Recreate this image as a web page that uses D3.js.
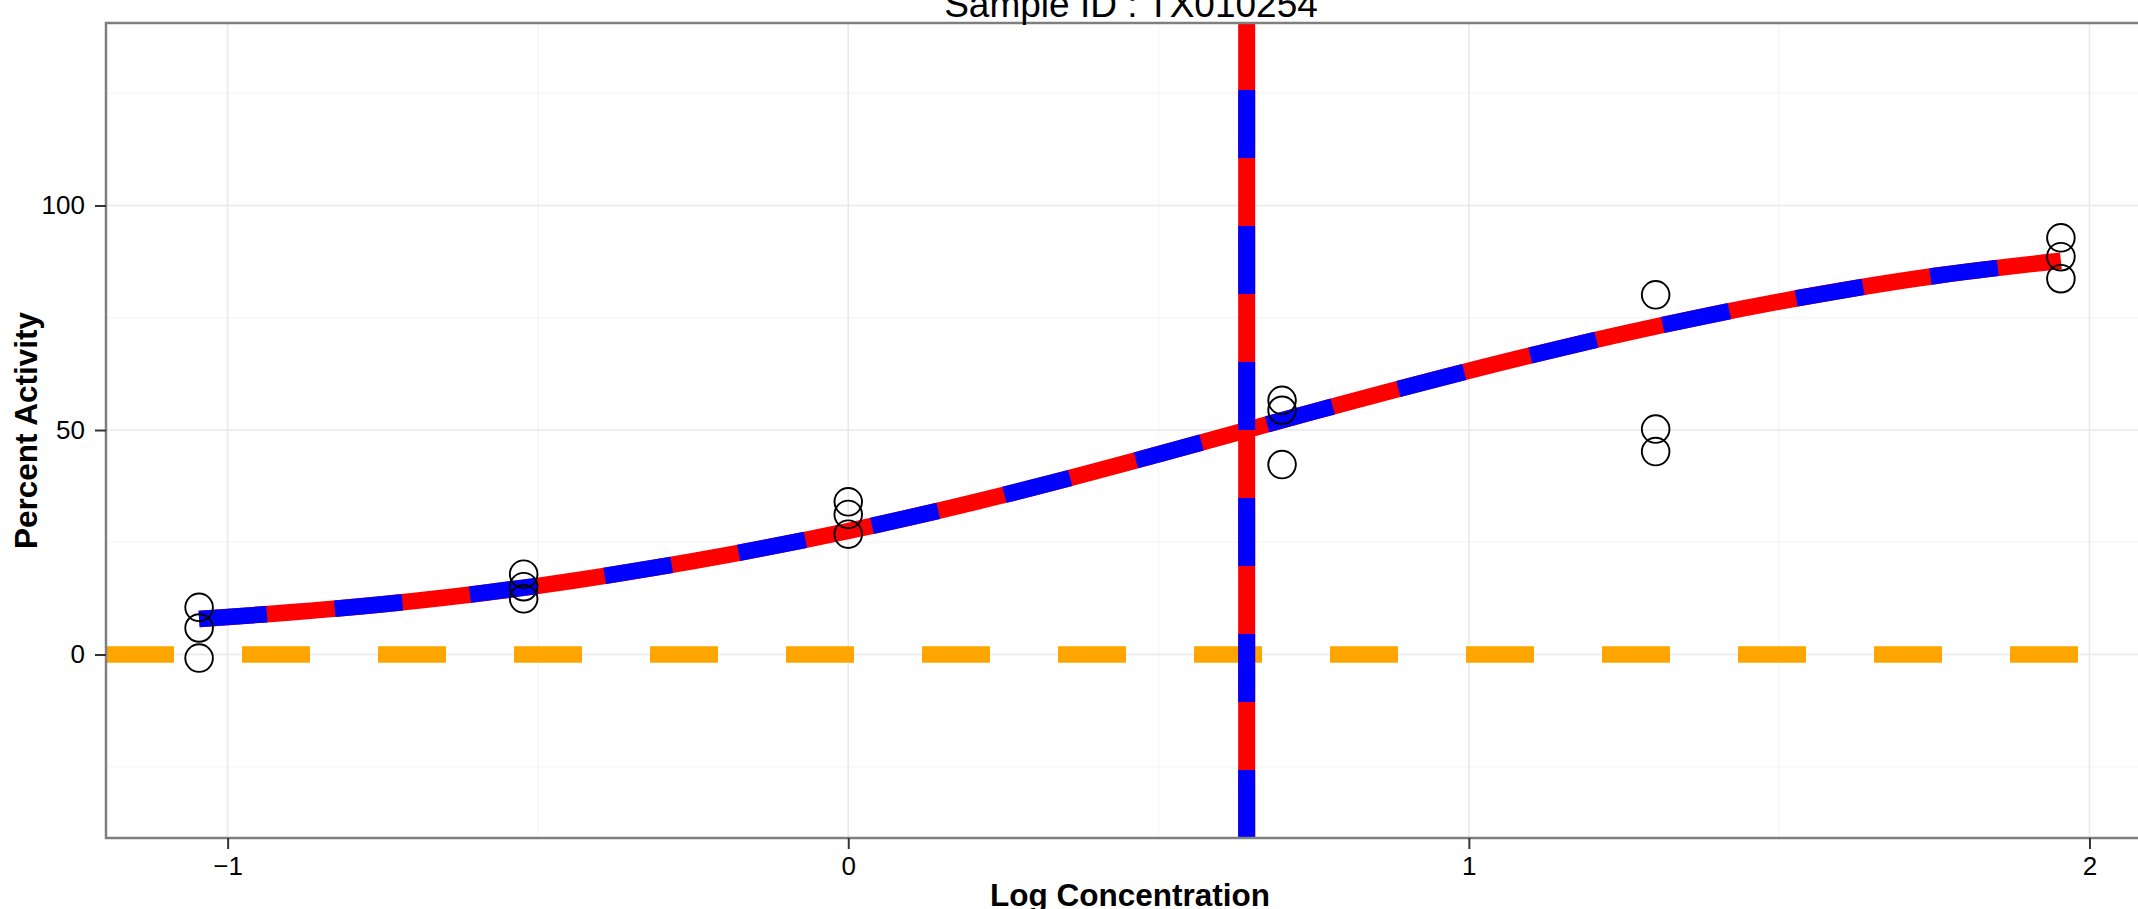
<!DOCTYPE html>
<html>
<head>
<meta charset="utf-8">
<script src="https://cdn.jsdelivr.net/npm/d3@7"></script>
<style>
  html, body { margin: 0; padding: 0; background: #ffffff; }
  svg { display: block; }
  text { font-family: "Liberation Sans", Arial, Helvetica, sans-serif; }
</style>
</head>
<body>
<svg id="chart" width="2138" height="909"></svg>
<script>
// ---- data ----
const titleText = "Sample ID : TX010254";
const xLabel = "Log Concentration";
const yLabel = "Percent Activity";
const xTicks = [-1, 0, 1, 2];
const xTickLabels = ["\u22121", "0", "1", "2"];
const yTicks = [0, 50, 100];
const yTickLabels = ["0", "50", "100"];
const xMinorTicks = [-0.5, 0.5, 1.5];
const yMinorTicks = [-25, 25, 75, 125];
const xDomain = [-1.196, 2.104];
const yDomain = [-40.87, 140.65];

const logConc = [-1.046, -0.523, 0, 0.699, 1.301, 1.954];
const rep1 = [10.5, 17.9, 34.0, 56.6, 80.1, 92.8];
const rep2 = [5.9, 15.1, 31.2, 54.4, 50.2, 88.6];
const rep3 = [-0.8, 12.4, 26.8, 42.3, 45.2, 83.7];

const fitX = [-1.046, -0.75, -0.5, -0.25, 0, 0.25, 0.5, 0.75, 1.0, 1.25, 1.5, 1.75, 1.954];
const fitY = [7.9, 11.2, 15.3, 20.8, 27.5, 35.5, 44.6, 54.1, 63.2, 71.5, 78.6, 84.3, 87.7];

const ic50 = 0.642;
const baseline = 0;

// ---- layout ----
const panel = { left: 106, right: 2154, top: 23, bottom: 838 };
const svg = d3.select("#chart");

const x = d3.scaleLinear().domain(xDomain).range([panel.left, panel.right]);
const y = d3.scaleLinear().domain(yDomain).range([panel.bottom, panel.top]);

// minor grid
svg.append("g").selectAll("line.vminor").data(xMinorTicks).join("line")
  .attr("x1", d => x(d)).attr("x2", d => x(d))
  .attr("y1", panel.top).attr("y2", panel.bottom)
  .attr("stroke", "#f7f7f7").attr("stroke-width", 1.5);
svg.append("g").selectAll("line.hminor").data(yMinorTicks).join("line")
  .attr("x1", panel.left).attr("x2", panel.right)
  .attr("y1", d => y(d)).attr("y2", d => y(d))
  .attr("stroke", "#f7f7f7").attr("stroke-width", 1.5);
// major grid
svg.append("g").selectAll("line").data(xTicks).join("line")
  .attr("x1", d => x(d)).attr("x2", d => x(d))
  .attr("y1", panel.top).attr("y2", panel.bottom)
  .attr("stroke", "#e8e8e8").attr("stroke-width", 1.5);
svg.append("g").selectAll("line").data(yTicks).join("line")
  .attr("x1", panel.left).attr("x2", panel.right)
  .attr("y1", d => y(d)).attr("y2", d => y(d))
  .attr("stroke", "#e8e8e8").attr("stroke-width", 1.5);

const dash = "68,68";

// baseline (orange dashed)
svg.append("line")
  .attr("x1", x(xDomain[0])).attr("x2", x(xDomain[1]))
  .attr("y1", y(baseline)).attr("y2", y(baseline))
  .attr("stroke", "#FFA500").attr("stroke-width", 16.5)
  .attr("stroke-dasharray", dash);

// fitted curve
const fit = fitX.map((v, i) => [v, fitY[i]]);
const line = d3.line().x(d => x(d[0])).y(d => y(d[1])).curve(d3.curveMonotoneX);
svg.append("path").datum(fit).attr("d", line)
  .attr("fill", "none").attr("stroke", "#FF0000").attr("stroke-width", 16.5);
svg.append("path").datum(fit).attr("d", line)
  .attr("fill", "none").attr("stroke", "#0000FF").attr("stroke-width", 16.5)
  .attr("stroke-dasharray", dash);

// IC50 vertical line (drawn bottom to top)
const vl = [[ic50, yDomain[0]], [ic50, yDomain[1]]];
const straight = d3.line().x(d => x(d[0])).y(d => y(d[1]));
svg.append("path").datum(vl).attr("d", straight)
  .attr("fill", "none").attr("stroke", "#FF0000").attr("stroke-width", 17);
svg.append("path").datum(vl).attr("d", straight)
  .attr("fill", "none").attr("stroke", "#0000FF").attr("stroke-width", 17)
  .attr("stroke-dasharray", dash);

// points
const pts = [];
[rep1, rep2, rep3].forEach(r => r.forEach((v, i) => pts.push([logConc[i], v])));
svg.append("g").selectAll("circle").data(pts).join("circle")
  .attr("cx", d => x(d[0])).attr("cy", d => y(d[1])).attr("r", 13.8)
  .attr("fill", "none").attr("stroke", "#000").attr("stroke-width", 1.9);

// panel border
svg.append("rect")
  .attr("x", panel.left).attr("y", panel.top)
  .attr("width", panel.right - panel.left).attr("height", panel.bottom - panel.top)
  .attr("fill", "none").attr("stroke", "#7f7f7f").attr("stroke-width", 2.5);

// axes
const xAxis = d3.axisBottom(x).tickValues(xTicks).tickSize(11).tickPadding(8)
  .tickFormat((d, i) => xTickLabels[i]);
const gx = svg.append("g").attr("transform", `translate(0,${panel.bottom})`).call(xAxis);
gx.select(".domain").remove();
gx.selectAll(".tick line").attr("stroke", "#333").attr("stroke-width", 2);
gx.selectAll(".tick text").attr("font-size", 26).attr("fill", "#000")
  .attr("font-family", "Liberation Sans, Arial, sans-serif");

const yAxis = d3.axisLeft(y).tickValues(yTicks).tickSize(11).tickPadding(10)
  .tickFormat((d, i) => yTickLabels[i]);
const gy = svg.append("g").attr("transform", `translate(${panel.left},0)`).call(yAxis);
gy.select(".domain").remove();
gy.selectAll(".tick line").attr("stroke", "#333").attr("stroke-width", 2);
gy.selectAll(".tick text").attr("font-size", 26).attr("fill", "#000")
  .attr("font-family", "Liberation Sans, Arial, sans-serif");

// titles
svg.append("text").attr("x", 1131).attr("y", 17)
  .attr("text-anchor", "middle").attr("font-size", 37).attr("fill", "#000")
  .text(titleText);
svg.append("text").attr("x", (panel.left + panel.right) / 2).attr("y", 906)
  .attr("text-anchor", "middle").attr("font-size", 31.5).attr("font-weight", "bold").attr("fill", "#000")
  .text(xLabel);
svg.append("text")
  .attr("transform", `translate(37,${(panel.top + panel.bottom) / 2}) rotate(-90)`)
  .attr("text-anchor", "middle").attr("font-size", 31.5).attr("font-weight", "bold").attr("fill", "#000")
  .text(yLabel);
</script>
</body>
</html>
